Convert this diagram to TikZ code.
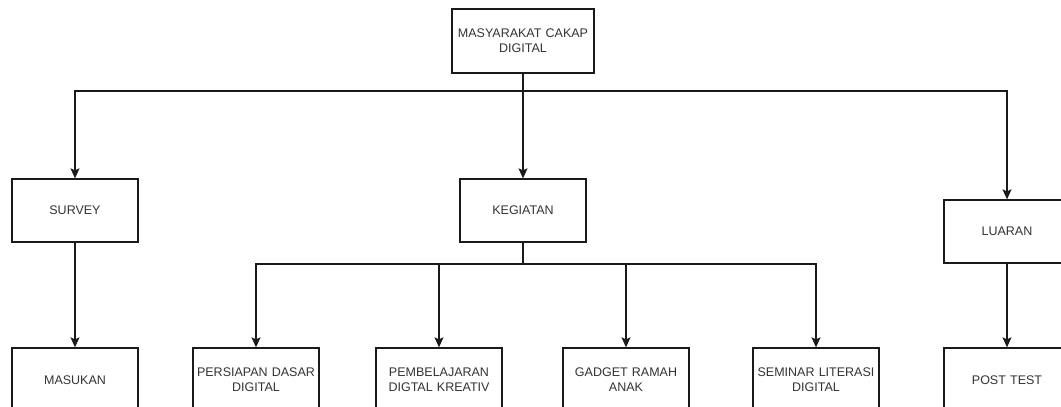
\documentclass[tikz,border=0pt]{standalone}
\usepackage{fontspec}
\setmainfont{Liberation Sans}
\usetikzlibrary{arrows.meta}
\definecolor{ln}{HTML}{1A1A1A}
\definecolor{tx}{HTML}{333333}
\tikzset{
  box/.style={draw=ln, line width=1.3pt, fill=white, minimum width=126pt, minimum height=63pt,
    text width=124pt, align=center, inner sep=0pt, font=\fontsize{12.5}{15}\selectfont, text=tx},
  arr/.style={draw=ln, line width=1.3pt, -{Stealth[length=10pt,width=9pt,inset=2pt]}},
  lin/.style={draw=ln, line width=1.3pt}
}
\begin{document}
\begin{tikzpicture}[x=1pt,y=-1pt]
\useasboundingbox (0,0) rectangle (1061,407);
\clip (0,0) rectangle (1061,407);
\fill[white] (0,0) rectangle (1061,407);
\node[box, minimum width=142pt, text width=140pt, minimum height=64pt] (top) at (523,41) {MASYARAKAT CAKAP\\DIGITAL};
\node[box] (survey) at (75,210.5) {SURVEY};
\node[box] (keg) at (523,210.5) {KEGIATAN};
\node[box] (luaran) at (1007,231.5) {LUARAN};
\node[box, minimum height=64pt] (masukan) at (75,380) {MASUKAN};
\node[box, minimum height=64pt] (persiapan) at (256,380) {PERSIAPAN DASAR\\DIGITAL};
\node[box, minimum height=64pt] (pembel) at (439,380) {PEMBELAJARAN\\DIGTAL KREATIV};
\node[box, minimum height=64pt] (gadget) at (626,380) {GADGET RAMAH\\ANAK};
\node[box, minimum height=64pt] (seminar) at (816,380) {SEMINAR LITERASI\\DIGITAL};
\node[box, minimum height=64pt] (post) at (1007,380) {POST TEST};
\coordinate (j1) at (523,91);
\coordinate (j2) at (523,264);
\draw[lin] (top.south) -- (j1);
\draw[arr] (j1) -| (survey.north);
\draw[arr] (top.south) -- (keg.north);
\draw[arr] (j1) -| (luaran.north);
\draw[arr] (survey.south) -- (masukan.north);
\draw[arr] (luaran.south) -- (post.north);
\draw[lin] (keg.south) -- (j2);
\draw[arr] (j2) -| (persiapan.north);
\draw[arr] (j2) -| (pembel.north);
\draw[arr] (j2) -| (gadget.north);
\draw[arr] (j2) -| (seminar.north);
\end{tikzpicture}
\end{document}
